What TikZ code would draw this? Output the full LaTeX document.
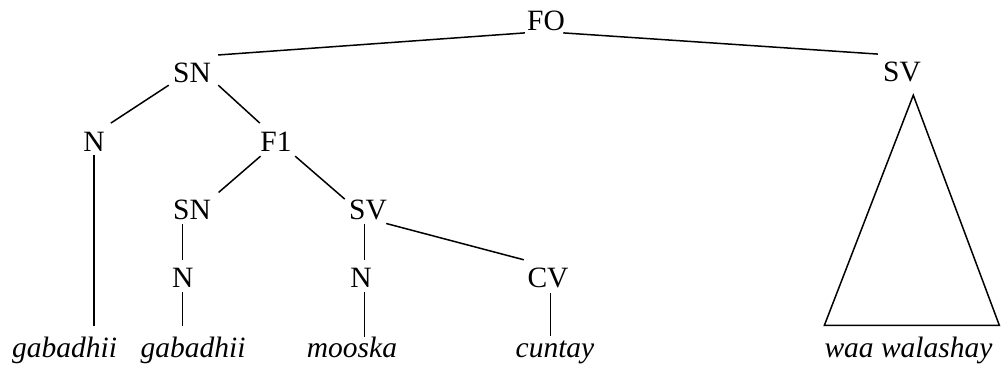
\documentclass[tikz,border=0pt]{standalone}
\usepackage{fontspec}
\setmainfont{Liberation Serif}
\usetikzlibrary{calc}
\begin{document}
\begin{tikzpicture}[x=1pt,y=1pt,
  cat/.style={inner sep=0pt, anchor=base, text height=19.5pt, text depth=0pt, font=\fontsize{29.5}{30}\selectfont},
  leaf/.style={inner sep=0pt, anchor=base, text height=20pt, text depth=6.4pt, font=\fontsize{29.5}{30}\selectfont\itshape},
  edge/.style={draw=black, line width=1.5pt}]
\useasboundingbox (0,0) rectangle (1002,366);
% category nodes
\node[cat] (FO)  at (546,335) {FO};
\node[cat] (SN1) at (192,283.3) {SN};
\node[cat] (SVr) at (902,284) {SV};
\node[cat] (N1)  at (94,214.3) {N};
\node[cat] (F1)  at (276,214.3) {F1};
\node[cat] (SN2) at (192,146) {SN};
\node[cat] (SV2) at (368,146) {SV};
\node[cat] (N2)  at (182.7,78) {N};
\node[cat] (N3)  at (361,78) {N};
\node[cat] (CV)  at (548,78) {CV};
% leaves
\node[leaf] (gab1) at (64.5,8.3) {gabadhii};
\node[leaf] (gab2) at (193,8.3) {gabadhii};
\node[leaf] (moo)  at (352,8.3) {mooska};
\node[leaf] (cun)  at (555,8.3) {cuntay};
\node[leaf] (waa)  at (908.5,8) {waa walashay};
% connectors
\draw[edge] ($(FO.south west)+(-2,-1.7)$) -- ($(SN1.north east)+(7,8)$);
\draw[edge] ($(FO.south east)+(-1.8,-1.7)$) -- ($(SVr.north west)+(-5,8.2)$);
\draw[edge] ($(SN1.south west)+(-4.2,-2.3)$) -- ($(N1.north east)+(6,8.9)$);
\draw[edge] ($(SN1.south east)+(7.2,-2.3)$) -- ($(F1.north west)+(-0.4,8.9)$);
\draw[edge] ($(N1.south)+(0,-3.3)$) -- ($(N1.south |- gab1.north)+(0,11)$);
\draw[edge] ($(F1.south west)+(0.3,-4.3)$) -- ($(SN2.north east)+(7.5,7.8)$);
\draw[edge] ($(F1.south east)+(3.4,-4.3)$) -- ($(SV2.north west)+(-4.2,1.2)$);
\draw[edge] ($(N2.north |- SN2.south)+(0,-4)$) -- ($(N2.north)+(0,7.8)$);
\draw[edge] ($(N2.south)+(0,-3.7)$) -- ($(N2.south |- gab2.north)+(0,11)$);
\draw[edge] ($(SV2.south)+(-3.5,-4)$) -- ($(SV2.south |- N3.north)+(-3.5,7.8)$);
\draw[edge] ($(SV2.south |- N3.south)+(-3.5,-3.7)$) -- ($(SV2.south |- moo.north)+(-3.5,0.4)$);
\draw[edge] ($(SV2.south east)+(-0.85,-3.3)$) -- ($(CV.north west)+(-3.5,8.5)$);
\draw[edge] ($(CV.south)+(2.7,-5.3)$) -- ($(CV.south |- cun.north)+(2.7,1)$);
\draw[edge, line join=miter] ($(SVr.south)+(11.3,-13)$) -- ($(waa.north west)+(0,12.3)$) -- ($(waa.north east)+(6.7,12.3)$) -- cycle;
\end{tikzpicture}
\end{document}
